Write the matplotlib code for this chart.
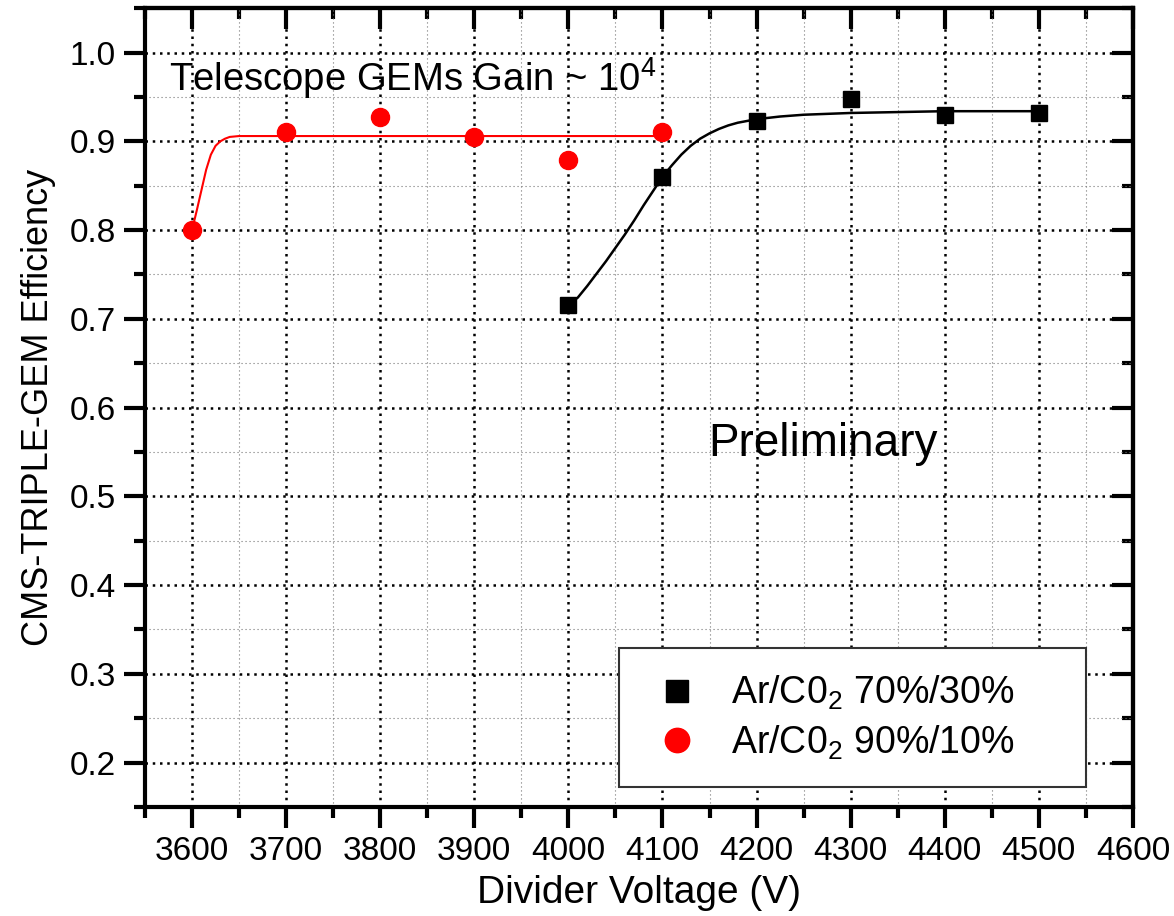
import matplotlib
matplotlib.use("Agg")
import matplotlib.pyplot as plt
from matplotlib.ticker import MultipleLocator

plt.rcParams['font.family'] = ['Liberation Sans', 'DejaVu Sans']
plt.rcParams['mathtext.fontset'] = 'custom'
plt.rcParams['mathtext.rm'] = 'Liberation Sans'
plt.rcParams['mathtext.default'] = 'regular'

# measured points
volt_7030 = [4000, 4100, 4200, 4300, 4400, 4500]
eff_7030 = [0.716, 0.860, 0.923, 0.948, 0.930, 0.932]
volt_9010 = [3600, 3700, 3800, 3900, 4000, 4100]
eff_9010 = [0.800, 0.910, 0.927, 0.905, 0.879, 0.911]

# fit curves
fit_x_7030 = [4000, 4010, 4020, 4030, 4040, 4050, 4060, 4070, 4080, 4090, 4100,
              4110, 4120, 4130, 4140, 4150, 4160, 4170, 4180, 4190, 4200,
              4225, 4250, 4300, 4350, 4400, 4500]
fit_y_7030 = [0.716, 0.724, 0.737, 0.751, 0.765, 0.780, 0.795, 0.811, 0.828, 0.844, 0.860,
              0.873, 0.885, 0.895, 0.903, 0.909, 0.914, 0.918, 0.921, 0.923, 0.925,
              0.928, 0.930, 0.932, 0.933, 0.934, 0.934]
fit_x_9010 = [3600, 3605, 3610, 3615, 3620, 3625, 3630, 3635, 3640, 3650, 4100]
fit_y_9010 = [0.800, 0.822, 0.845, 0.868, 0.885, 0.895, 0.900, 0.903, 0.905, 0.906, 0.906]

fig = plt.figure(figsize=(11.74, 9.16), dpi=100)
ax = fig.add_axes([0.1235, 0.119, 0.8415, 0.872])

ax.xaxis.set_major_locator(MultipleLocator(100))
ax.xaxis.set_minor_locator(MultipleLocator(50))
ax.yaxis.set_major_locator(MultipleLocator(0.1))
ax.yaxis.set_minor_locator(MultipleLocator(0.05))
ax.grid(which='major', color='black', lw=1.8, linestyle=(0, (1, 1.9)))
ax.grid(which='minor', color='#777777', lw=0.8, linestyle=(0, (1, 2.6)))
ax.set_axisbelow(True)

ax.plot(fit_x_9010, fit_y_9010, color='red', lw=1.5, zorder=3)
ax.plot(fit_x_7030, fit_y_7030, color='black', lw=1.8, zorder=3)
ax.plot(volt_7030, eff_7030, 's', color='black', ms=12, zorder=4,
        label='Ar/C0$_2$ 70%/30%')
ax.plot(volt_9010, eff_9010, 'o', color='red', ms=13, zorder=4,
        label='Ar/C0$_2$ 90%/10%')

ax.set_xlim(3550, 4600)
ax.set_ylim(0.15, 1.05)
ax.set_xticks([3600, 3700, 3800, 3900, 4000, 4100, 4200, 4300, 4400, 4500, 4600])
ax.set_yticks([0.2, 0.3, 0.4, 0.5, 0.6, 0.7, 0.8, 0.9, 1.0])
ax.set_yticklabels(['0.2', '0.3', '0.4', '0.5', '0.6', '0.7', '0.8', '0.9', '1.0'])

for s in ax.spines.values():
    s.set_linewidth(3)
ax.tick_params(which='both', labelsize=24, width=3, direction='out',
               top=False, right=False, pad=6)
ax.tick_params(which='major', length=15)
ax.tick_params(which='minor', length=8)

# inward ticks on top and right
ax_top = ax.secondary_xaxis('top')
ax_top.xaxis.set_major_locator(MultipleLocator(100))
ax_top.xaxis.set_minor_locator(MultipleLocator(50))
ax_top.tick_params(which='both', direction='in', width=3, labeltop=False)
ax_top.tick_params(which='major', length=15)
ax_top.tick_params(which='minor', length=8)
ax_top.spines['top'].set_linewidth(3)
ax_right = ax.secondary_yaxis('right')
ax_right.yaxis.set_major_locator(MultipleLocator(0.1))
ax_right.yaxis.set_minor_locator(MultipleLocator(0.05))
ax_right.tick_params(which='both', direction='in', width=3, labelright=False)
ax_right.tick_params(which='major', length=15)
ax_right.tick_params(which='minor', length=8)
ax_right.spines['right'].set_linewidth(3)

ax.set_xlabel('Divider Voltage (V)', fontsize=28, labelpad=6)
ax.set_ylabel('CMS-TRIPLE-GEM Efficiency', fontsize=26, labelpad=10)

ax.text(3575, 0.957, 'Telescope GEMs Gain ~ 10$^4$', fontsize=27.5, va='baseline')
ax.text(4149, 0.546, 'Preliminary', fontsize=33, va='baseline')

leg = ax.legend(loc='lower left', bbox_to_anchor=(0.48, 0.025, 0.473, 0.177),
                mode='expand', borderaxespad=0, fontsize=27, frameon=True,
                fancybox=False, edgecolor='#333333', framealpha=1, borderpad=0.68,
                handletextpad=0.6, labelspacing=0.3, handlelength=1.7,
                markerscale=1.35)
leg.get_frame().set_linewidth(1.5)

fig.savefig('out.png', dpi=100)
plt.close(fig)
